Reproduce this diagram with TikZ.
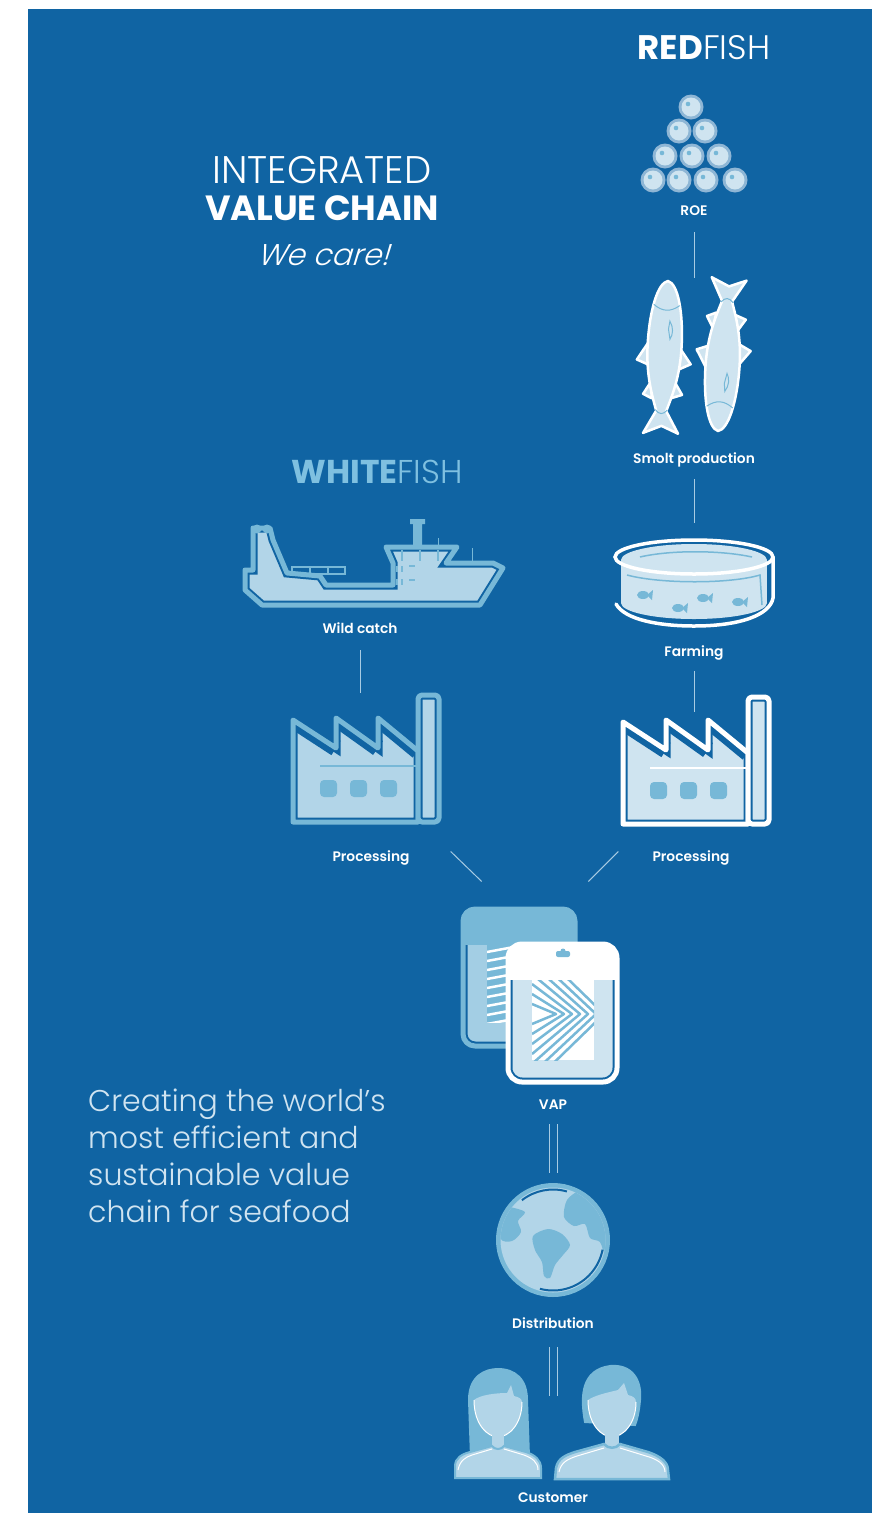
\documentclass[tikz,border=0pt]{standalone}
\usepackage{fontspec}
\setmainfont{Poppins}
\newfontfamily\lightfont{Poppins Light}
\newfontfamily\semifont{Poppins SemiBold}
\newfontfamily\handfont{Poppins Light}[FakeSlant=0.3]

\definecolor{seablue}{HTML}{1064A3}
\definecolor{icepale}{HTML}{CFE4F0}
\definecolor{skypale}{HTML}{B2D5E8}
\definecolor{bagmid}{HTML}{A3CEE4}
\definecolor{accent}{HTML}{77B8D7}
\definecolor{eggring}{HTML}{8FB6D5}
\definecolor{linkcol}{HTML}{A7CBE3}
\definecolor{whitefish}{HTML}{7FC0E0}
\definecolor{bodytext}{HTML}{D0E4F1}

% outline, dark gap, then fill: the look of every icon
\newcommand\ringed[3]{%
  \fill[#2] #3;
  \begin{scope}\clip #3; \draw[seablue, line width=9pt] #3; \end{scope}
  \draw[#1, line width=5pt, line join=round] #3;}

% salmon, head at the origin, tail towards +y
\newcommand\salmon{%
  \draw[fishline] (-15,60) -- (-27,80) -- (-14,85) -- cycle;
  \draw[fishline] (15,66) -- (27,82) -- (15,88) -- cycle;
  \draw[fishline] (-12,102) -- (-19,114) -- (-10,118) -- cycle;
  \draw[fishline] (11,99) -- (20,113) -- (9,117) -- cycle;
  \draw[fishline] (0,0) .. controls (10,2) and (17,30) .. (17,65)
    .. controls (17,95) and (10,115) .. (5,130) -- (18,152) -- (1,145)
    -- (-17,153) -- (-5,130) .. controls (-10,115) and (-17,95) .. (-17,65)
    .. controls (-17,30) and (-10,2) .. (0,0) -- cycle;
  \draw[accent, line width=1pt] (-13,24) .. controls (-4,31) and (4,31) .. (13,24);
  \draw[accent, line width=1pt] (-6,129) .. controls (-2,134) and (2,134) .. (6,129);
  \draw[accent, line width=1pt] (4,40) .. controls (8,46) and (8,53) .. (5,58) -- (3,48) -- cycle;}

% factory with saw-tooth roof and chimney
\newcommand\factory[4]{%
  \begin{scope}[shift={#1}]
    \fill[#3] (0,129) -- (0,27) -- (43,55) -- (43,25) -- (85,55) -- (85,25) -- (125,58) -- (125,129) -- cycle;
    \begin{scope}
      \clip (0,129) -- (0,27) -- (43,55) -- (43,25) -- (85,55) -- (85,25) -- (125,58) -- (125,129) -- cycle;
      \draw[seablue, line width=9pt] (0,129) -- (0,27) -- (43,55) -- (43,25) -- (85,55) -- (85,25) -- (125,58) -- (125,129) -- cycle;
      \draw[seablue, line width=17pt] (0,27) -- (43,55) (43,25) -- (85,55) (85,25) -- (125,58);
    \end{scope}
    \draw[#2, line width=5pt, line join=round] (0,129) -- (0,27) -- (43,55) -- (43,25) -- (85,55) -- (85,25) -- (125,58) -- (125,129) -- cycle;
    \draw[#4, line width=2pt] (27,73) -- (125,73);
    \foreach \wx in {27,57,87}
      \fill[accent, rounded corners=4pt] (\wx,87) rectangle ++(17,17);
    \ringed{#2}{#3}{[rounded corners=4pt] (125,2) rectangle (146,129)}
  \end{scope}}

\newcommand\smallfish[2]{%
  \fill[accent] (#1,#2) ellipse[x radius=6, y radius=4];
  \fill[accent] (#1+4,#2) -- (#1+10,#2-5) -- (#1+9,#2+5) -- cycle;}

\begin{document}
\begin{tikzpicture}[x=1pt, y=-1pt,
  lbl/.style={text=white, font=\semifont\fontsize{13.8}{16}\selectfont, inner sep=0pt, anchor=base},
  box/.style={inner sep=0pt, outer sep=0pt},
  link/.style={draw=linkcol, line width=1pt},
  twin/.style={draw=linkcol, line width=1pt, double=seablue, double distance=7pt},
  fishline/.style={draw=white, line width=2.5pt, fill=icepale, line join=round}]

\useasboundingbox (0,0) rectangle (877,1513);
\fill[white] (0,0) rectangle (877,1513);
\fill[seablue] (28,9) rectangle (872,1513);

% headings
\node[anchor=base, text=white, inner sep=0pt] (redfish) at (704,59)
  {\fontsize{34}{40}\selectfont{\bfseries RED}{\lightfont FISH}};
\node[anchor=base, text=whitefish, inner sep=0pt] (whitefish) at (377,483)
  {\fontsize{33}{38}\selectfont{\bfseries WHITE}{\lightfont FISH}};
\node[anchor=base, text=white, inner sep=0pt, font=\lightfont\fontsize{38.5}{42}\selectfont] (integ) at (322,183) {INTEGRATED};
\node[anchor=base, text=white, inner sep=0pt, font=\bfseries\fontsize{35}{40}\selectfont] (chain) at (322,220) {VALUE CHAIN};
\node[anchor=base, text=white, inner sep=0pt, font=\handfont\fontsize{30}{36}\selectfont] (care) at (323,265) {We care!};
\node[anchor=north west, align=left, inner sep=0pt, text=bodytext,
  font=\lightfont\fontsize{30}{37}\selectfont] (slogan) at (88,1089)
  {Creating the world’s\\most efficient and\\sustainable value\\chain for seafood};

% roe
\foreach \ex/\ey in {691/107, 679/131, 705/131, 665/156, 692/156, 719/156,
                     653/180, 679/180, 706/180, 735/180} {
  \fill[eggring] (\ex,\ey) circle (12.5);
  \fill[seablue!35!icepale] (\ex,\ey) circle (10.3);
  \fill[icepale] (\ex,\ey) circle (9.5);
  \fill[accent] (\ex,\ey) ++(-3,-3) circle (2.3);
}
\node[lbl] (roe) at (694,215) {ROE};

% smolt
\node[box, minimum width=110pt, minimum height=154pt] (fishes) at (694,355) {};
\begin{scope}[shift={(668,281)}, rotate=-3] \salmon \end{scope}
\begin{scope}[shift={(718,431)}, yscale=-1, rotate=4] \salmon \end{scope}
\node[lbl] (smolt) at (694,463) {Smolt production};

% farming pen
\node[box, minimum width=160pt, minimum height=118pt] (pen) at (694,582) {};
\fill[icepale] (694,560) ellipse[x radius=73, y radius=16];
\fill[icepale] (621,560) rectangle (767,603);
\fill[icepale] (694,603) ellipse[x radius=73, y radius=16];
\draw[accent, line width=1.5pt] (640,557) .. controls (670,550) and (720,550) .. (752,557);
\draw[accent, line width=1.5pt] (627,575) .. controls (660,584) and (730,584) .. (760,575) -- (762,605);
\smallfish{643}{595} \smallfish{678}{608} \smallfish{703}{598} \smallfish{738}{602}
\draw[white, line width=3.5pt] (694,557) ellipse[x radius=79, y radius=17];
\draw[white, line width=3.5pt, line cap=round] (773,557) -- (773,598)
  .. controls (770,615) and (740,626) .. (694,626)
  .. controls (660,626) and (625,620) .. (616,604);
\node[lbl] (farming) at (694,656) {Farming};

% wild catch
\node[box, minimum width=260pt, minimum height=88pt] (ship) at (374,563) {};
\ringed{accent}{skypale}{(253,528) -- (270,528) -- (273,540) -- (287,573) -- (320,576) -- (326,585) -- (393,585) -- (393,563) -- (386,547) -- (457,547) -- (446,563) -- (493,563) -- (503,568) -- (480,605) -- (262,605) -- (245,590) -- (245,570) -- (253,570) -- cycle}
\fill[accent] (257,529) circle (4.5) (267,529) circle (4.5);
\draw[accent, line width=1.5pt] (292,567) rectangle (345,574) (310,567) -- (310,574) (328,567) -- (328,574);
\draw[accent, line width=1.5pt] (402,550) -- (402,561) (420,550) -- (420,561) (438,550) -- (438,561);
\fill[accent] (413,522) rectangle (422,547) (410,519) rectangle (425,524);
\draw[accent, line width=1pt] (438,538) -- (438,547) (472,548) -- (472,562);
\draw[accent, line width=2pt] (397,566) -- (397,572) (402,566) -- (402,572) (409,566) -- (415,566)
  (397,579) -- (397,585) (402,579) -- (402,585) (409,580) -- (415,580);
\node[lbl] (wild) at (360,633) {Wild catch};

% processing
\node[box, minimum width=150pt, minimum height=130pt] (factL) at (361,758) {};
\factory{(293,693)}{accent}{skypale}{accent}
\node[lbl] (procL) at (371,861) {Processing};
\node[box, minimum width=150pt, minimum height=108pt] (factR) at (697,766) {};
\factory{(623,695)}{white}{icepale}{white}
\node[lbl] (procR) at (691,861) {Processing};

% value added products
\node[box, minimum width=156pt, minimum height=176pt] (vapbags) at (540,995) {};
\ringed{accent}{bagmid}{[rounded corners=12pt] (463,909) rectangle (575,1046)}
\begin{scope}
  \clip[rounded corners=12pt] (463,909) rectangle (575,1046);
  \fill[accent] (463,909) rectangle (575,945);
\end{scope}
\begin{scope}
  \clip (487,945) rectangle (530,1022);
  \fill[accent] (487,945) rectangle (530,1022);
  \foreach \k in {0,...,8}
    \draw[white, line width=2.5pt] (487,952+9*\k) -- (530,944+9*\k);
\end{scope}
\ringed{white}{icepale}{[rounded corners=14pt] (508,944) rectangle (617,1082)}
\begin{scope}
  \clip[rounded corners=14pt] (508,944) rectangle (617,1082);
  \fill[white] (508,944) rectangle (617,980);
\end{scope}
\fill[accent, rounded corners=2pt] (556,951) rectangle (570,957);
\fill[accent] (563,951) circle (2.5);
\fill[white] (532,980) rectangle (594,1060);
\begin{scope}
  \clip (532,980) rectangle (594,1060);
  \foreach \k in {0,...,6}
    \draw[accent, line width=2.5pt, line join=round] (532,1004-10*\k) -- (556+8*\k,1014) -- (532,1024+10*\k);
\end{scope}
\node[lbl] (vap) at (553,1109) {VAP};

% distribution
\node[box, minimum width=116pt, minimum height=134pt] (globe) at (553,1240) {};
\fill[accent] (553,1240) circle (57);
\fill[skypale] (553,1240) circle (52.5);
\begin{scope}
  \clip (553,1240) circle (52.5);
  \fill[accent] plot[smooth cycle] coordinates {(533,1236) (548,1229) (562,1234) (570,1245)
    (563,1255) (555,1265) (550,1278) (544,1276) (542,1262) (535,1250)};
  \fill[accent] plot[smooth cycle] coordinates {(564,1217) (567,1200) (580,1190) (600,1184)
    (625,1200) (620,1250) (606,1256) (600,1242) (590,1238) (585,1224) (574,1226)};
  \fill[accent] plot[smooth cycle] coordinates {(495,1205) (510,1207) (525,1212) (518,1221)
    (521,1232) (512,1241) (500,1238)};
\end{scope}
\draw[seablue, line width=2pt] (553,1240) ++(-74:50.5) arc[start angle=-74, end angle=-128, radius=50.5];
\draw[seablue, line width=2pt] (553,1240) ++(11:50.5) arc[start angle=11, end angle=105, radius=50.5];
\node[lbl] (distribution) at (553,1328) {Distribution};

% customers
\node[box, minimum width=220pt, minimum height=82pt] (people) at (560,1437) {};
\fill[accent] (470,1457) -- (468,1400) .. controls (468,1375) and (485,1368) .. (498,1368)
  .. controls (515,1368) and (528,1378) .. (528,1400) -- (530,1457) -- cycle;
\fill[skypale] (474,1400) .. controls (480,1395) and (495,1393) .. (507,1393) -- (511,1385)
  -- (514,1396) .. controls (519,1397) and (522,1399) .. (522,1402)
  .. controls (522,1425) and (508,1437) .. (498,1437)
  .. controls (488,1437) and (474,1425) .. (474,1400) -- cycle;
\draw[white, line width=1pt] (522,1402) .. controls (522,1425) and (508,1437) .. (498,1437)
  .. controls (488,1437) and (474,1425) .. (474,1400);
\fill[skypale] (492,1433) rectangle (504,1452);
\draw[accent, line width=2pt, fill=skypale] (455,1478) -- (455,1466) .. controls (455,1458) and (462,1454) .. (470,1452)
  -- (492,1446) .. controls (495,1450) and (501,1450) .. (504,1446) -- (526,1452)
  .. controls (535,1455) and (541,1460) .. (541,1468) -- (541,1478) -- cycle;
\draw[white, line width=1pt] (458,1470) .. controls (460,1460) and (466,1457) .. (472,1455) -- (492,1449)
  (504,1449) -- (524,1455) .. controls (532,1458) and (538,1462) .. (538,1470);
\draw[accent, line width=2pt, fill=accent] (585,1422) .. controls (580,1395) and (582,1370) .. (610,1366)
  .. controls (632,1364) and (642,1380) .. (640,1400) .. controls (639,1412) and (637,1420) .. (635,1425) -- cycle;
\fill[skypale] (588,1400) .. controls (595,1395) and (610,1392) .. (618,1390) -- (624,1383)
  -- (628,1395) .. controls (633,1396) and (636,1398) .. (636,1402)
  .. controls (636,1425) and (622,1437) .. (612,1437)
  .. controls (602,1437) and (588,1425) .. (588,1400) -- cycle;
\draw[white, line width=1pt] (636,1402) .. controls (636,1425) and (622,1437) .. (612,1437)
  .. controls (602,1437) and (588,1425) .. (588,1400);
\fill[skypale] (605,1432) rectangle (619,1452);
\draw[accent, line width=2.5pt, fill=skypale] (555,1479) -- (556,1468) .. controls (558,1458) and (566,1455) .. (575,1452)
  -- (604,1444) .. controls (608,1449) and (616,1449) .. (620,1444) -- (648,1452)
  .. controls (660,1456) and (668,1462) .. (668,1470) -- (669,1479) -- cycle;
\draw[white, line width=1pt] (559,1472) .. controls (561,1462) and (568,1459) .. (577,1456) -- (604,1448)
  (620,1448) -- (646,1456) .. controls (657,1459) and (665,1464) .. (665,1472);
\node[lbl] (customer) at (553,1502) {Customer};

% connectors
\draw[link, shorten <=17pt] (roe) -- (roe |- fishes.north);
\draw[link, shorten <=12pt] (smolt) -- (smolt |- pen.north);
\draw[link, shorten <=11pt] (farming) -- (farming |- factR.north);
\draw[link, shorten <=17pt] (wild) -- (wild |- factL.north);
\path (procL.east) ++(41,-6) coordinate (cutL) ++(31,30) coordinate (vapL);
\path (procR.west) ++(-34,-6) coordinate (cutR) ++(-30,30) coordinate (vapR);
\draw[link] (cutL) -- (vapL);
\draw[link] (cutR) -- (vapR);
\draw[twin, shorten <=15pt] (vap) -- (vap |- globe.north);
\draw[twin, shorten <=19pt] (distribution) -- (distribution |- people.north);

\end{tikzpicture}
\end{document}
